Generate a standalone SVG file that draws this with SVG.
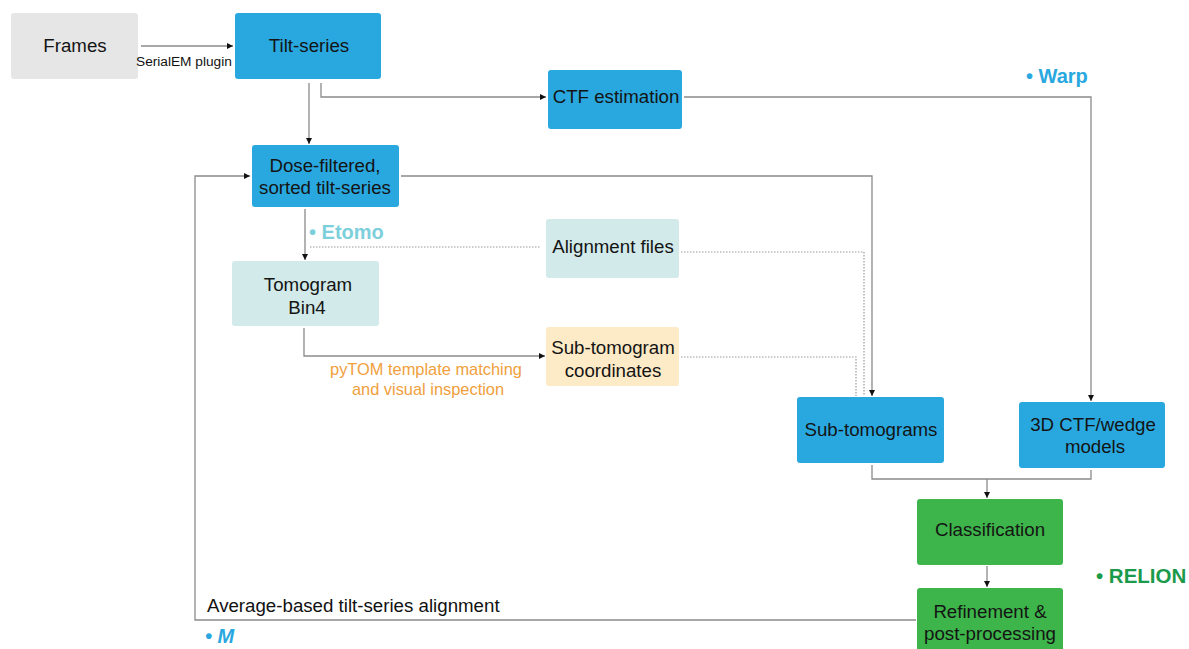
<svg xmlns="http://www.w3.org/2000/svg" width="1189" height="649" viewBox="0 0 1189 649">
<style>
.t{font-family:"Liberation Sans",Arial,sans-serif;font-size:18.7px;fill:#141414;text-anchor:middle}
.blue{fill:#29a8e0}
.teal{fill:#d2eae9}
.green{fill:#3db54a}
.ln{fill:none;stroke:#8a8a8a;stroke-width:1.3}
.dot{fill:none;stroke:#9a9a9a;stroke-width:1.2;stroke-dasharray:1.5 1.5}
.tool{font-family:"Liberation Sans",Arial,sans-serif;font-size:20px;font-weight:bold}
</style>
<defs>
<marker id="ah" markerWidth="8" markerHeight="8" refX="6" refY="3" orient="auto" markerUnits="userSpaceOnUse">
<path d="M0,0 L6,3 L0,6 Z" fill="#111"/>
</marker>
</defs>
<rect width="1189" height="649" fill="#fff"/>
<g id="connectors">
<line class="ln" x1="141" y1="46" x2="233" y2="46" marker-end="url(#ah)"/>
<line class="ln" x1="309" y1="83" x2="309" y2="144" marker-end="url(#ah)"/>
<polyline class="ln" points="321,83 321,97 546,97" marker-end="url(#ah)"/>
<polyline class="ln" points="684,97 1091,97 1091,401" marker-end="url(#ah)"/>
<polyline class="ln" points="401,176 872,176 872,396" marker-end="url(#ah)"/>
<polyline class="ln" points="916,620 195,620 195,176 250,176" marker-end="url(#ah)"/>
<line class="ln" x1="305" y1="209" x2="305" y2="260" marker-end="url(#ah)"/>
<line class="dot" x1="310" y1="247" x2="540" y2="247"/>
<polyline class="dot" points="681,252 864,252 864,396"/>
<polyline class="ln" points="304,328 304,356 545,356" marker-end="url(#ah)"/>
<polyline class="dot" points="681,357 856,357 856,396"/>
<polyline class="ln" points="872,465 872,479 1091,479 1091,470"/>
<line class="ln" x1="987" y1="479" x2="987" y2="498" marker-end="url(#ah)"/>
<line class="ln" x1="987" y1="566" x2="987" y2="587" marker-end="url(#ah)"/>
</g>
<g id="frames"><rect x="11" y="13" width="127" height="66" rx="3" fill="#e6e6e6"/><text class="t" x="75" y="52">Frames</text></g>
<g id="tilt-series"><rect class="blue" x="235" y="13" width="146" height="66" rx="3"/><text class="t" x="309" y="52">Tilt-series</text></g>
<g id="ctf-estimation"><rect class="blue" x="548" y="70" width="134" height="59" rx="3"/><text class="t" x="616" y="103">CTF estimation</text></g>
<g id="dose-filtered"><rect class="blue" x="252" y="145" width="147" height="62" rx="3"/><text class="t" x="325" y="172">Dose-filtered,</text><text class="t" x="325" y="194">sorted tilt-series</text></g>
<g id="tomogram"><rect class="teal" x="232" y="261" width="147" height="65" rx="3"/><text class="t" x="308" y="291">Tomogram</text><text class="t" x="307" y="314">Bin4</text></g>
<g id="alignment-files"><rect class="teal" x="546" y="219" width="133" height="59" rx="3"/><text class="t" x="613" y="253">Alignment files</text></g>
<g id="coordinates"><rect x="546" y="327" width="133" height="59" rx="3" fill="#fdeac6"/><text class="t" x="613" y="354">Sub-tomogram</text><text class="t" x="613" y="377">coordinates</text></g>
<g id="sub-tomograms"><rect class="blue" x="797" y="397" width="147" height="66" rx="3"/><text class="t" x="871" y="436">Sub-tomograms</text></g>
<g id="ctf-wedge"><rect class="blue" x="1019" y="402" width="146" height="66" rx="3"/><text class="t" x="1093" y="431">3D CTF/wedge</text><text class="t" x="1095" y="453">models</text></g>
<g id="classification"><rect class="green" x="917" y="499" width="146" height="66" rx="3"/><text class="t" x="990" y="536">Classification</text></g>
<g id="refinement"><rect class="green" x="917" y="588" width="146" height="66" rx="3"/><text class="t" x="990" y="618">Refinement &amp;</text><text class="t" x="990" y="640">post-processing</text></g>
<g id="labels">
<text x="136" y="66" style="font-family:'Liberation Sans',Arial,sans-serif;font-size:13.7px;fill:#111">SerialEM plugin</text>
<text x="426" y="375" style="font-family:'Liberation Sans',Arial,sans-serif;font-size:16.4px;fill:#f0a03c;text-anchor:middle">pyTOM template matching</text>
<text x="428" y="395" style="font-family:'Liberation Sans',Arial,sans-serif;font-size:16.4px;fill:#f0a03c;text-anchor:middle">and visual inspection</text>
<text x="207" y="612" style="font-family:'Liberation Sans',Arial,sans-serif;font-size:18.7px;fill:#111">Average-based tilt-series alignment</text>
<text class="tool" x="309" y="239" fill="#7ecfdc">• Etomo</text>
<text class="tool" x="1026" y="83" fill="#29a8e0">• Warp</text>
<text class="tool" x="1096" y="583" fill="#1a9a4a" style="font-size:20.5px">• RELION</text>
<text class="tool" x="205" y="643" fill="#29a8e0" font-style="italic">• M</text>
</g>
</svg>
